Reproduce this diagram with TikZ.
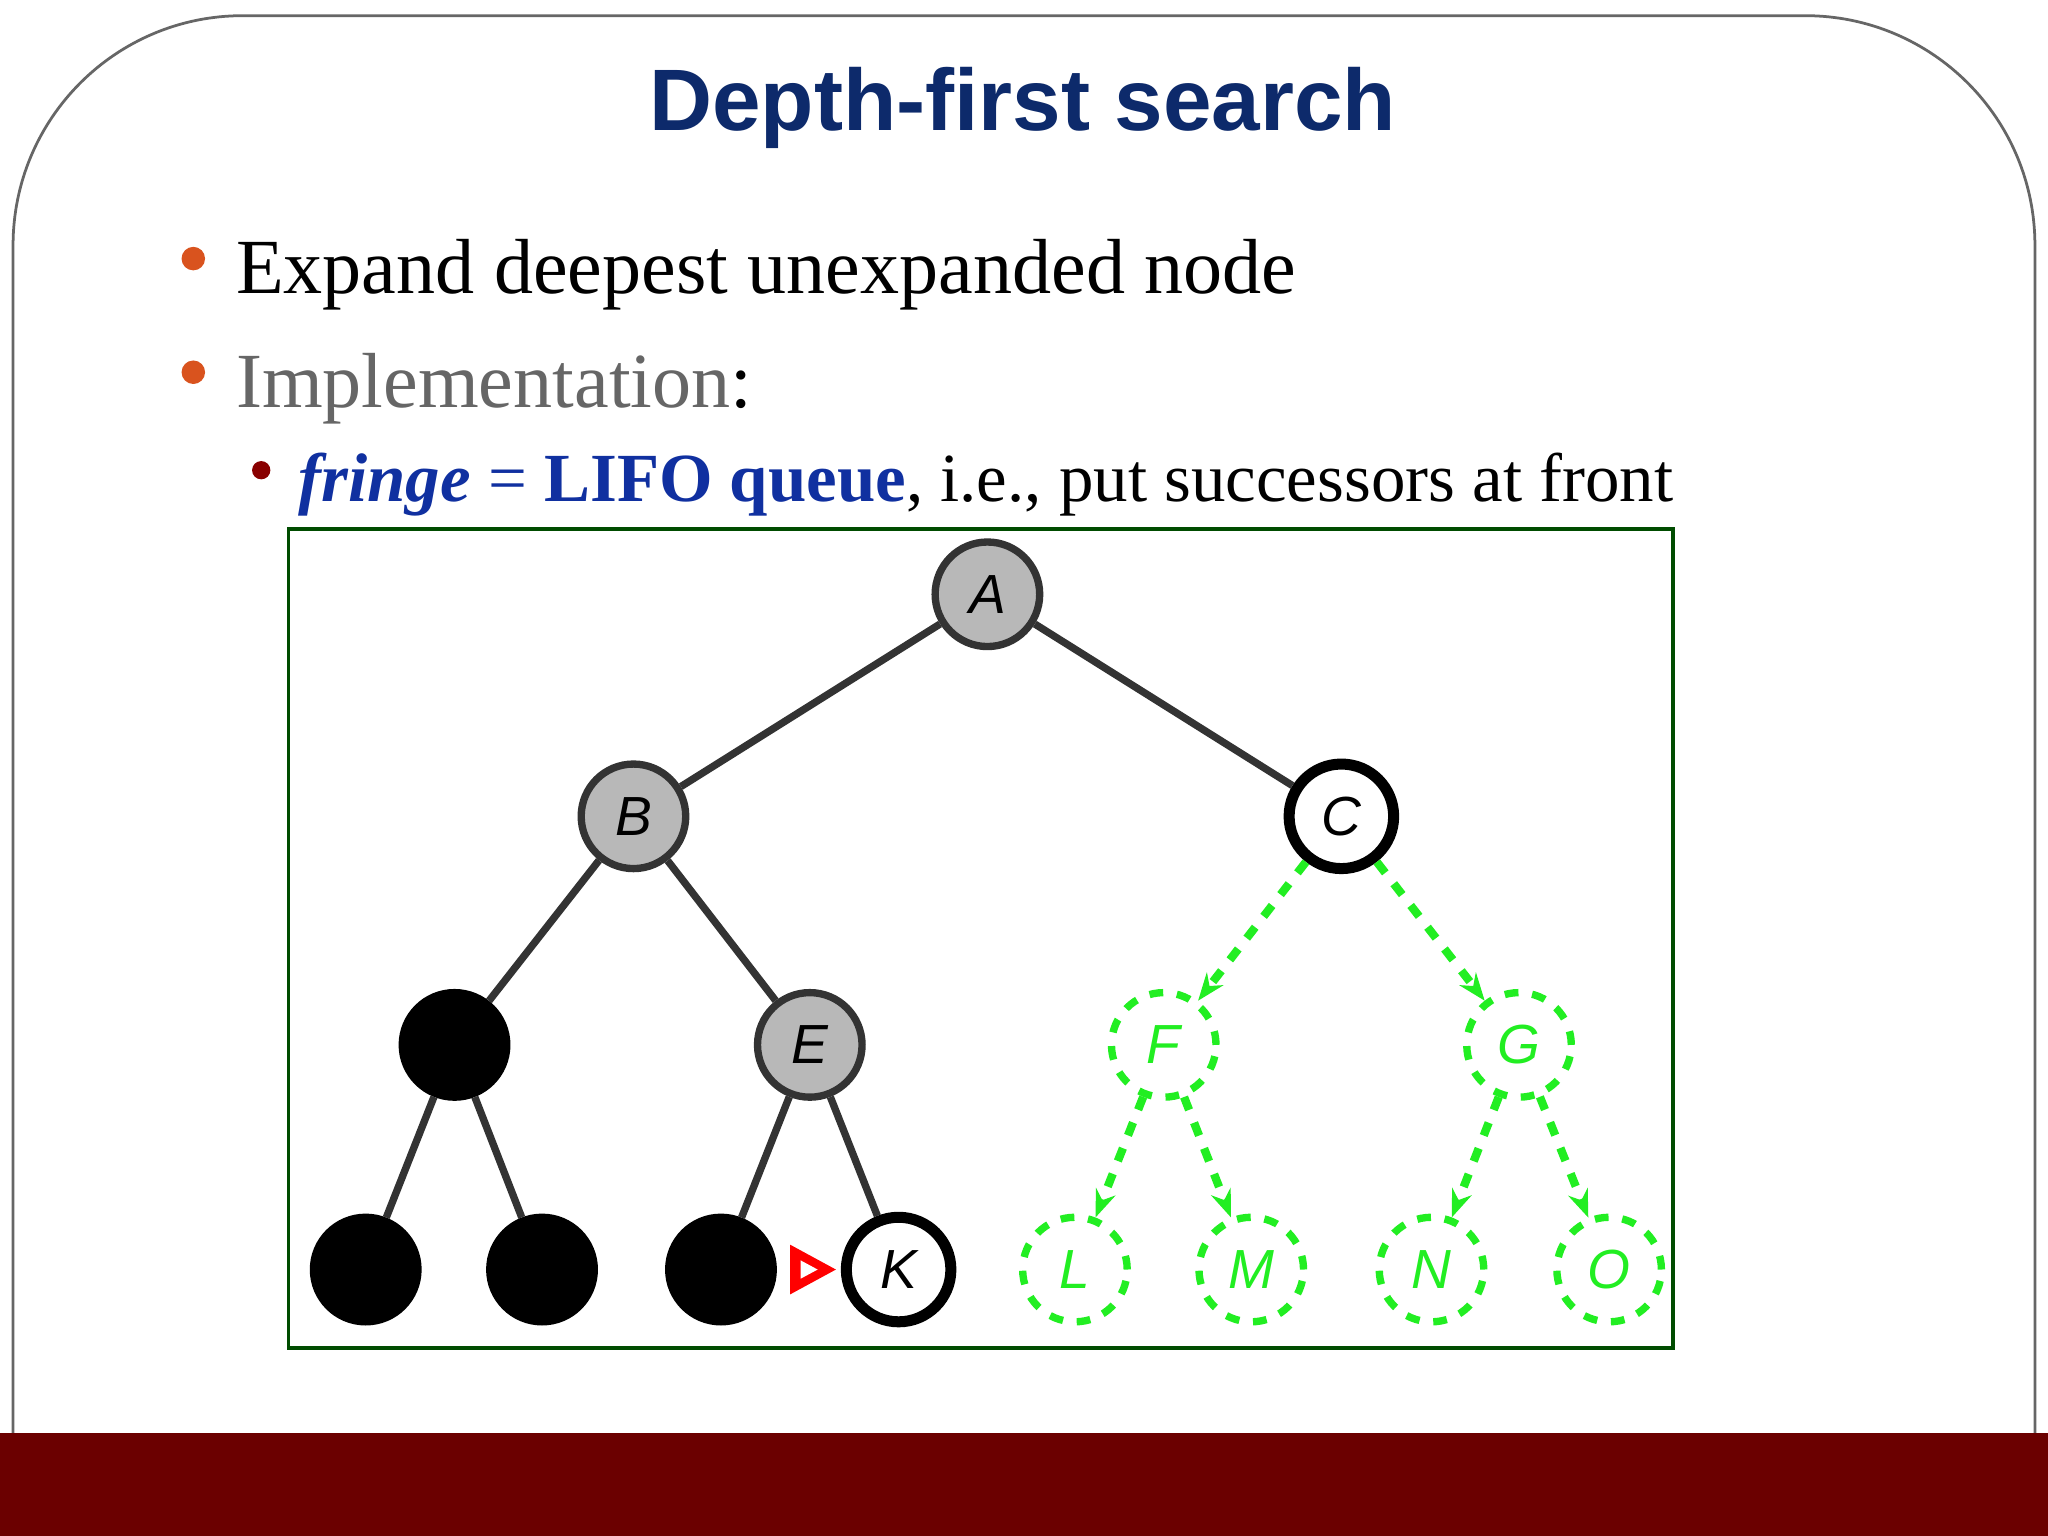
\documentclass[tikz,border=0pt]{standalone}
\usepackage{fontspec}
\setmainfont{Liberation Serif}
\setsansfont{Liberation Sans}
\usetikzlibrary{arrows.meta}
\definecolor{navy}{HTML}{0D2A6B}
\definecolor{band}{HTML}{6B0000}
\definecolor{bul}{HTML}{D9531E}
\definecolor{lnk}{HTML}{1030A0}
\definecolor{grn}{HTML}{22EE22}
\begin{document}
\begin{tikzpicture}[x=0.01cm,y=-0.01cm,
  tn/.style={circle,minimum size=0.8cm,inner sep=0pt,line width=1.6pt,font=\sffamily\itshape\large},
  gr/.style={tn,draw=black!80,fill=black!28},
  bk/.style={tn,draw=black,fill=black},
  wh/.style={tn,draw=black,fill=white,line width=2.4pt},
  gn/.style={tn,draw=grn,dashed,text=grn},
  ed/.style={draw=black!80,line width=1.6pt},
  ge/.style={draw=grn,dashed,line width=1.8pt,-{Stealth[length=6pt]}}]
\useasboundingbox (0,0) rectangle (1568,1176);
\fill[white] (0,0) rectangle (1568,1176);
\draw[black!60,line width=0.6pt,rounded corners=50] (10,1100) -- (10,12) -- (1558,12) -- (1558,1100);
\fill[band] (0,1097) rectangle (1568,1176);
\node (title) at (783,83) {\sffamily\bfseries\fontsize{19}{22}\selectfont\color{navy}Depth-first search};
\fill[bul] (148,198) circle (9);
\node[anchor=base west,inner sep=0pt] (t1) at (180,225) {\fontsize{17}{20}\selectfont Expand deepest unexpanded node};
\fill[bul] (148,285) circle (9);
\node[anchor=base west,inner sep=0pt] (t2) at (180,312) {\fontsize{17}{20}\selectfont\textcolor{black!60}{Implementation}:};
\fill[band!80!red] (200,360) circle (7);
\node[anchor=base west,inner sep=0pt] (t3) at (228,384) {\fontsize{15}{18}\selectfont\textcolor{lnk}{\textbf{\textit{fringe}} = \textbf{LIFO queue}}, i.e., put successors at front};
\draw[green!30!black,line width=0.8pt] (221,405) rectangle (1281,1032);
\node[gr] (A) at (756,455) {A};
\node[gr] (B) at (485,625) {B};
\node[wh] (C) at (1027,625) {C};
\node[bk] (D) at (348,800) {};
\node[gr] (E) at (620,800) {E};
\node[gn] (F) at (891,800) {F};
\node[gn] (G) at (1163,800) {G};
\node[bk] (H) at (280,972) {};
\node[bk] (I) at (415,972) {};
\node[bk] (J) at (552,972) {};
\node[wh] (K) at (688,972) {K};
\node[gn] (L) at (823,972) {L};
\node[gn] (M) at (958,972) {M};
\node[gn] (N) at (1096,972) {N};
\node[gn] (O) at (1232,972) {O};
\foreach \a/\b in {A/B,A/C,B/D,B/E,D/H,D/I,E/J,E/K} \draw[ed] (\a) -- (\b);
\foreach \a/\b in {C/F,C/G,F/L,F/M,G/N,G/O} \draw[ge] (\a) -- (\b);
\fill[red] (605,953) -- (640,972) -- (605,991) -- cycle;
\fill[white] (613,965) -- (626,972) -- (613,979) -- cycle;
\end{tikzpicture}
\end{document}
